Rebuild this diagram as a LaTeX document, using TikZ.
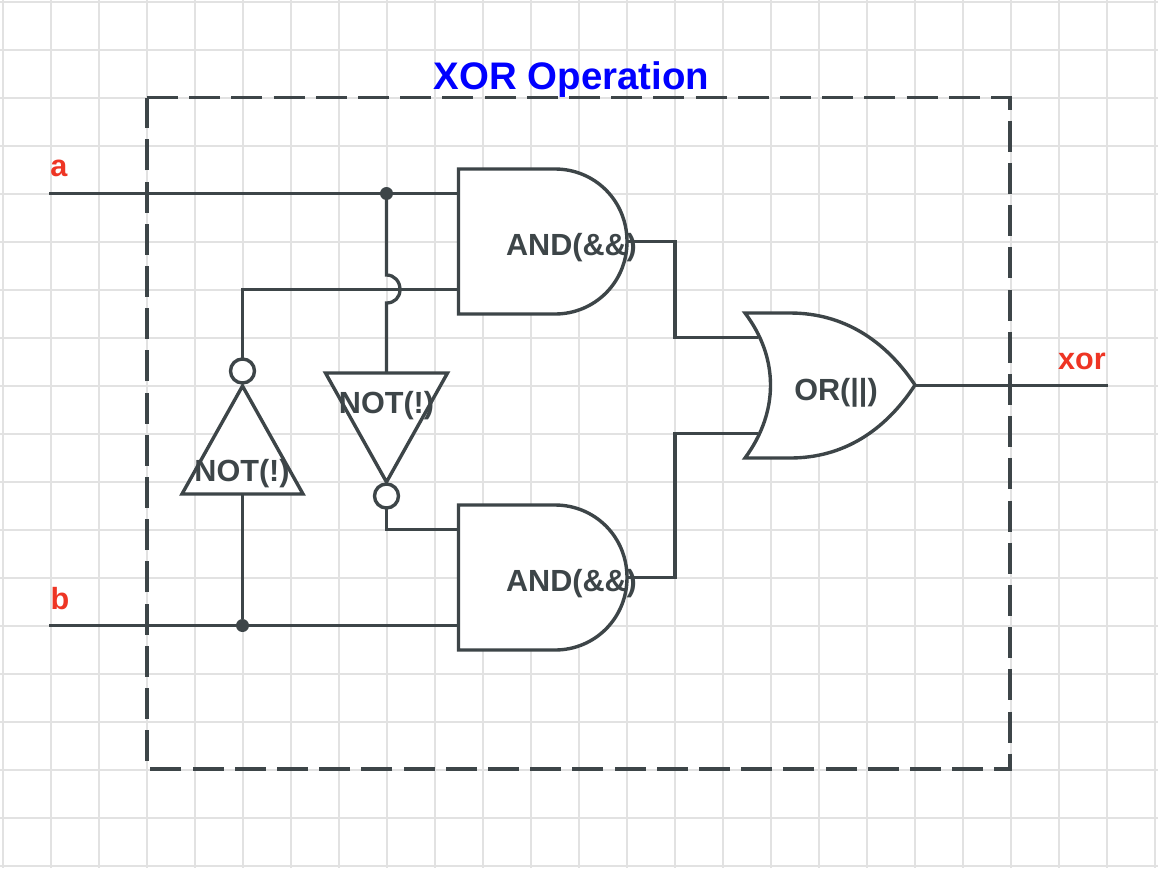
\documentclass[tikz,border=0pt]{standalone}
\usepackage{fontspec}
\setmainfont{Liberation Sans}
\definecolor{wirecol}{HTML}{3D4548}
\definecolor{gridcol}{HTML}{E2E2E2}
\definecolor{labelred}{HTML}{EE3524}
\tikzset{
  gridline/.style={draw=gridcol, line width=1.5pt},
  wire/.style={draw=wirecol, line width=3.3pt},
  gate/.style={draw=wirecol, fill=white, line width=3.4pt, line join=miter},
  gatetext/.style={text=wirecol, font=\fontsize{30.6}{36}\bfseries\selectfont, inner sep=0pt},
  iolabel/.style={text=labelred, font=\fontsize{30.6}{36}\bfseries\selectfont, inner sep=0pt},
  junction/.style={circle, fill=wirecol, minimum size=13pt, inner sep=0pt}
}
\begin{document}
\begin{tikzpicture}[x=1pt,y=-1pt]
\useasboundingbox (0,0) rectangle (1158,868);
\fill[white] (0,0) rectangle (1158,868);
\foreach \gx in {0,...,24} \draw[gridline] ({3+48*\gx},0) -- ({3+48*\gx},868);
\foreach \gy in {0,...,18} \draw[gridline] (0,{2+48*\gy}) -- (1158,{2+48*\gy});

\coordinate (TL) at (147,97.5); \coordinate (TR) at (1010,97.5); \coordinate (BL) at (147,769); \coordinate (BR) at (1010,769);
\draw[wire, dash pattern=on 31pt off 11.2pt] (TL)--(TR)--(BR)--(BL)--cycle;

\coordinate (a) at (49,193.5); \coordinate (b) at (49,625.5); \coordinate (xor) at (1108,385.5);
\coordinate (and1a) at (458,193.5); \coordinate (and1b) at (458,289.5); \coordinate (and1out) at (627,241.5);
\coordinate (and2a) at (458,529.5); \coordinate (and2b) at (458,625.5); \coordinate (and2out) at (627,577.5);
\coordinate (ora) at (758,337.5); \coordinate (orb) at (758,433.5); \coordinate (orout) at (915,385.5);
\coordinate (not1in) at (242.5,494); \coordinate (not1out) at (242.5,358);
\coordinate (not2in) at (386.5,373); \coordinate (not2out) at (386.5,509);
\coordinate (hop1) at (386.5,275); \coordinate (hop2) at (386.5,303);

% wires
\node[junction] (dota) at (386.5,193.5) {};
\node[junction] (dotb) at (242.5,625.5) {};
\draw[wire] (a)--(and1a);
\draw[wire] (b)--(and2b);
\draw[wire] (dota)--(hop1) .. controls (394.5,275) and (400,281.5) .. (400,289.5) .. controls (400,297.5) and (394.5,303) .. (hop2)--(not2in);
\draw[wire] (dotb)--(not1in);
\draw[wire] (not1out)|-(and1b);
\draw[wire] (not2out)|-(and2a);
\draw[wire] (and1out)-|(675,337.5)--(ora);
\draw[wire] (and2out)-|(675,433.5)--(orb);
\draw[wire] (orout)--(xor);

% gates
\draw[gate] (458.5,169)--(555,169) .. controls (595,169) and (627,201) .. (627,241.5) .. controls (627,282) and (595,314) .. (555,314)--(458.5,314)--cycle;
\draw[gate] (458.5,505)--(555,505) .. controls (595,505) and (627,537) .. (627,577.5) .. controls (627,618) and (595,650) .. (555,650)--(458.5,650)--cycle;
\draw[gate] (745,313)--(790,313) .. controls (843,313) and (885,340) .. (915,385) .. controls (885,431) and (843,458) .. (790,458)--(745,458) .. controls (779,412) and (779,358) .. cycle;
\draw[gate] (242.5,386)--(303,494)--(182,494)--cycle;
\draw[gate] (325.5,373)--(447.5,373)--(386.5,482)--cycle;
\draw[gate] (242.5,371) circle[radius=12];
\draw[gate] (386.5,496) circle[radius=12];

\node[gatetext] (and1) at (571.5,248) {AND(\&\&)};
\node[gatetext] (and2) at (571.5,584) {AND(\&\&)};
\node[gatetext] (or) at (836,392.5) {OR(||)};
\node[gatetext] (not1) at (242,474) {NOT(!)};
\node[gatetext] (not2) at (386.5,406) {NOT(!)};
\node[iolabel] (la) at (59,168) {a};
\node[iolabel] (lb) at (60,599) {b};
\node[iolabel] (lxor) at (1082,361) {xor};
\node[text=blue, font=\fontsize{38.4}{44}\bfseries\selectfont, inner sep=0pt] (title) at (571.5,80) {XOR Operation};
\end{tikzpicture}
\end{document}
